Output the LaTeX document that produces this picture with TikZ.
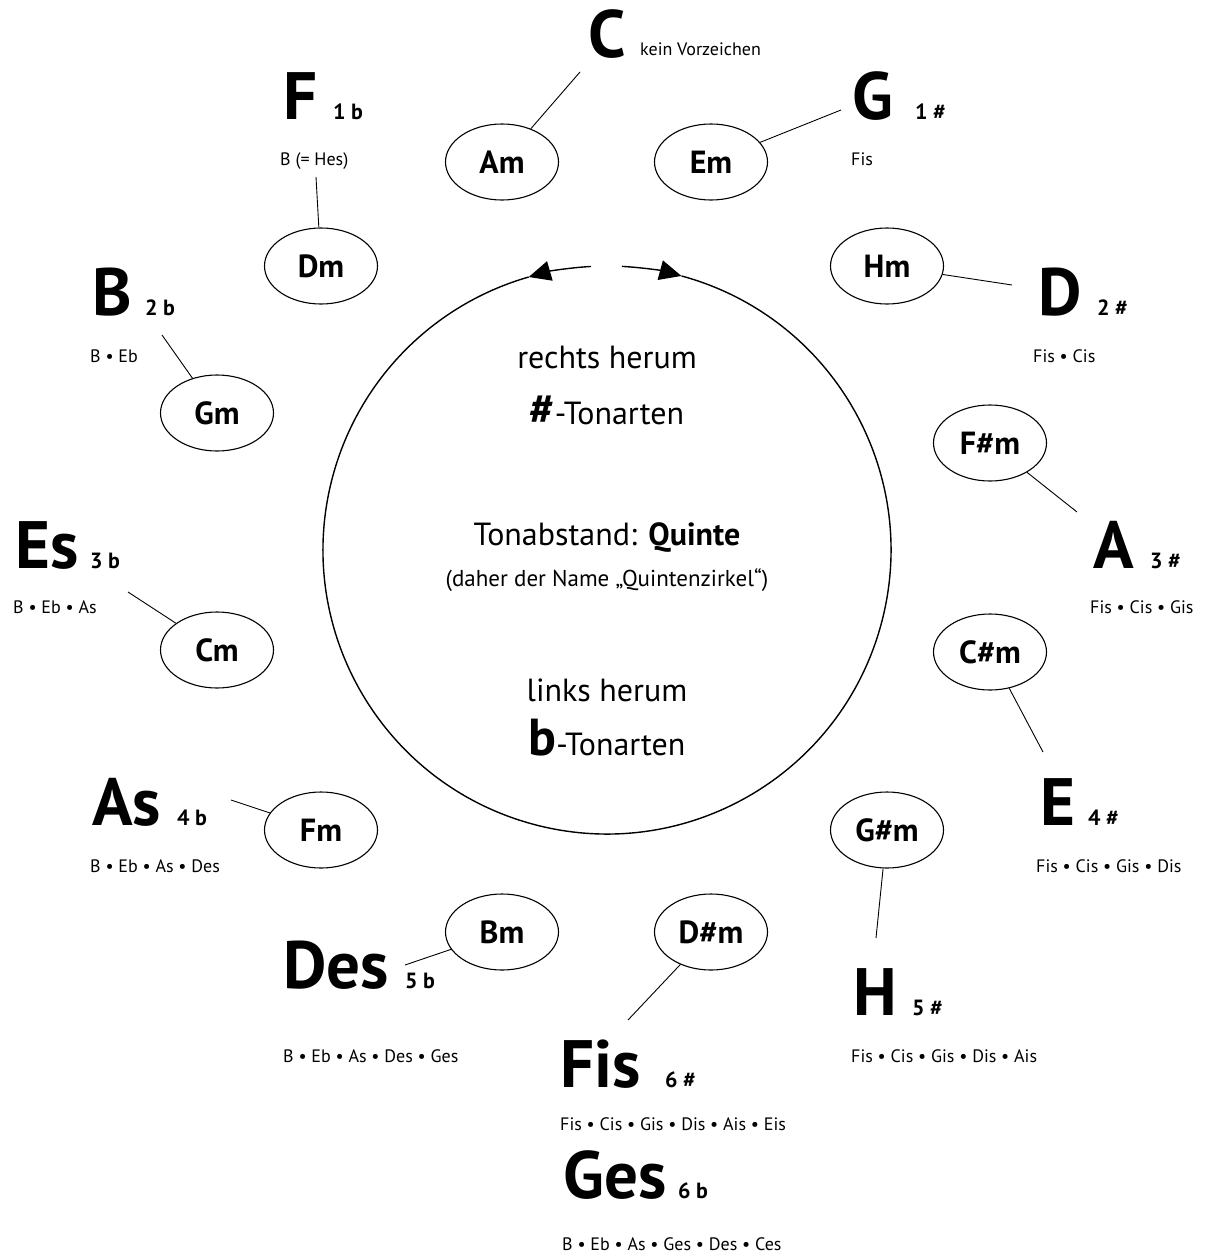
\documentclass[tikz,border=0pt]{standalone}
\usepackage{fontspec}
\setmainfont{PT Sans}
\usetikzlibrary{shapes.geometric,arrows.meta,calc}
\newcommand{\fsz}[1]{\fontsize{#1}{#1}\selectfont}
\begin{document}
\begin{tikzpicture}[x=1pt,y=-1pt,
  minor/.style={draw,ellipse,line width=1.1pt,minimum width=113pt,minimum height=76pt,inner sep=0pt,font=\bfseries\fsz{32}},
  keyname/.style={anchor=base west,inner sep=0pt,font=\bfseries\fsz{67}},
  keycount/.style={anchor=base west,inner sep=0pt,font=\bfseries\fsz{22}},
  keynote/.style={anchor=base west,inner sep=0pt,font=\fsz{18}},
  conn/.style={line width=0.9pt},
  centertext/.style={inner sep=0pt,font=\fsz{32}}]
\useasboundingbox (0,0) rectangle (1205,1258);
\coordinate (O) at (607,550);
% main circle with arrows
\draw[line width=1.4pt] ($(O)+(-74.8:284)$) arc[start angle=-74.8,end angle=254,radius=284];
\draw[line width=1.4pt,-{Triangle[length=22pt,width=20pt]}] ($(O)+(-93.2:284)$) arc[start angle=-93.2,end angle=-106,radius=284];
\draw[line width=1.4pt,-{Triangle[length=22pt,width=20pt]}] ($(O)+(-87:284)$) arc[start angle=-87,end angle=-74.8,radius=284];
% minor ellipses
\node[minor] (Am) at (502,162) {Am};
\node[minor] (Em) at (711,162) {Em};
\node[minor] (Dm) at (321,266) {Dm};
\node[minor] (Hm) at (887,266) {Hm};
\node[minor] (Gm) at (217,413) {Gm};
\node[minor] (Fism) at (990,443) {F\#m};
\node[minor] (Cm) at (217,650) {Cm};
\node[minor] (Cism) at (990,652) {C\#m};
\node[minor] (Fm) at (321,830) {Fm};
\node[minor] (Gism) at (887,830) {G\#m};
\node[minor] (Bm) at (502,932) {Bm};
\node[minor] (Dism) at (711,932) {D\#m};
% major keys
\node[keyname] (C) at (588,57) {C};
\node[keynote] (Cn) at (640,55) {kein Vorzeichen};
\node[keyname] (F) at (283,119) {F};
\node[keycount] (Fc) at (333,119) {1 b};
\node[keynote] (Fn) at (280,165) {B (= Hes)};
\node[keyname] (G) at (852,119) {G};
\node[keycount] (Gc) at (915,119) {1 \#};
\node[keynote] (Gn) at (851,165) {Fis};
\node[keyname] (B) at (92,315) {B};
\node[keycount] (Bc) at (145,315) {2 b};
\node[keynote] (Bn) at (90,362) {B • Eb};
\node[keyname] (D) at (1038,315) {D};
\node[keycount] (Dc) at (1097,315) {2 \#};
\node[keynote] (Dn) at (1033,362) {Fis • Cis};
\node[keyname] (Es) at (15,568) {Es};
\node[keycount] (Esc) at (90,568) {3 b};
\node[keynote] (Esn) at (13,613) {B • Eb • As};
\node[keyname] (A) at (1093,568) {A};
\node[keycount] (Ac) at (1150,568) {3 \#};
\node[keynote] (An) at (1090,613) {Fis • Cis • Gis};
\node[keyname] (As) at (92,825) {As};
\node[keycount] (Asc) at (177,825) {4 b};
\node[keynote] (Asn) at (90,872) {B • Eb • As • Des};
\node[keyname] (E) at (1040,825) {E};
\node[keycount] (Ec) at (1088,825) {4 \#};
\node[keynote] (En) at (1036,872) {Fis • Cis • Gis • Dis};
\node[keyname] (Des) at (283,988) {Des};
\node[keycount] (Desc) at (405,988) {5 b};
\node[keynote] (Desn) at (283,1062) {B • Eb • As • Des • Ges};
\node[keyname] (H) at (853,1015) {H};
\node[keycount] (Hc) at (912,1015) {5 \#};
\node[keynote] (Hn) at (851,1062) {Fis • Cis • Gis • Dis • Ais};
\node[keyname] (Fis) at (560,1087) {Fis};
\node[keycount] (Fisc) at (665,1087) {6 \#};
\node[keynote] (Fisn) at (560,1130) {Fis • Cis • Gis • Dis • Ais • Eis};
\node[keyname] (Ges) at (563,1198) {Ges};
\node[keycount] (Gesc) at (678,1198) {6 b};
\node[keynote] (Gesn) at (562,1250) {B • Eb • As • Ges • Des • Ces};
% connector free ends
\coordinate (tC) at (580,72);
\coordinate (tG) at (841,110);
\coordinate (tF) at (316,177);
\coordinate (tD) at (1012,285);
\coordinate (tB) at (162,335);
\coordinate (tA) at (1077,512);
\coordinate (tEs) at (128,592);
\coordinate (tE) at (1043,752);
\coordinate (tAs) at (231,800);
\coordinate (tH) at (876,938);
\coordinate (tDes) at (405,965);
\coordinate (tFis) at (628,1020);
\draw[conn] (Am) -- (tC);
\draw[conn] (Em) -- (tG);
\draw[conn] (Dm) -- (tF);
\draw[conn] (Hm) -- (tD);
\draw[conn] (Gm) -- (tB);
\draw[conn] (Fism) -- (tA);
\draw[conn] (Cm) -- (tEs);
\draw[conn] (Cism) -- (tE);
\draw[conn] (Fm) -- (tAs);
\draw[conn] (Gism) -- (tH);
\draw[conn] (Bm) -- (tDes);
\draw[conn] (Dism) -- (tFis);
% centre texts
\node[centertext] (rh) at (607,357) {rechts herum};
\node[centertext,anchor=base] (rt) at (607,424) {{\bfseries\fsz{44}\#}-Tonarten};
\node[centertext] (ta) at (607,538) {Tonabstand: \textbf{Quinte}};
\node[centertext,font=\fsz{23}] (dn) at (607,580) {(daher der Name „Quintenzirkel“)};
\node[centertext] (lh) at (607,690) {links herum};
\node[centertext,anchor=base] (lt) at (607,755) {{\bfseries\fsz{52}b}-Tonarten};
\end{tikzpicture}
\end{document}
